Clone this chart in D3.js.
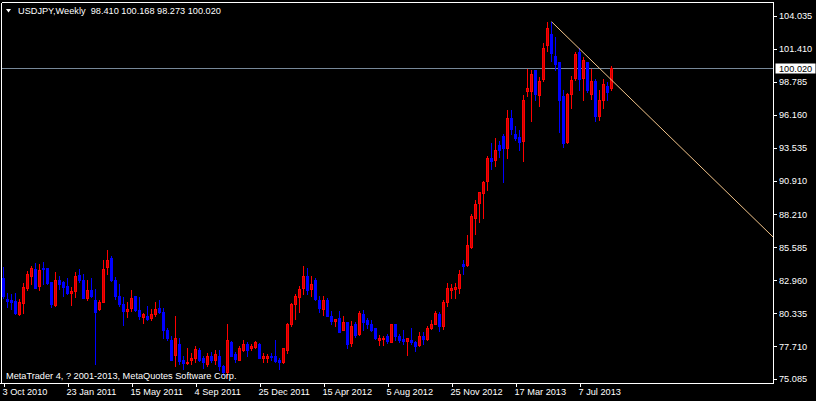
<!DOCTYPE html>
<html>
<head>
<meta charset="utf-8">
<script src="https://cdn.jsdelivr.net/npm/d3@7"></script>
<style>
  html, body { margin: 0; padding: 0; background: #000; }
  svg { display: block; }
  text { font-family: "Liberation Sans", Arial, sans-serif; font-size: 9.2px; fill: #fff; }
</style>
</head>
<body>
<svg id="chart" width="816" height="401"></svg>
<script>
// ---- DATA (weekly USDJPY candles, 3 Oct 2010 .. 1 Sep 2013) ----
const opens = [
 83.24,81.59,81.51,81.45,80.36,81.29,82.44,83.42,84.00,82.65,
 84.03,84.03,82.91,81.11,83.13,82.91,82.65,82.06,82.22,83.50,
 83.13,81.69,82.28,81.48,80.79,81.35,84.14,84.88,83.13,81.85,
 81.21,80.63,80.89,81.80,80.73,80.15,80.26,80.10,80.36,80.84,
 80.57,79.14,78.34,77.12,77.97,76.69,76.48,76.75,76.91,77.49,
 76.91,76.38,77.07,76.75,77.07,76.22,75.80,78.18,77.23,76.75,
 77.49,78.02,77.65,77.76,78.02,76.91,76.91,77.07,77.01,76.75,
 76.59,77.55,79.62,81.21,81.74,82.49,83.39,82.38,83.07,81.53,
 80.79,81.53,80.26,79.83,80.04,79.14,79.72,78.07,79.62,78.82,
 80.42,79.88,79.62,79.30,78.34,78.39,78.61,78.18,79.56,78.66,
 78.39,78.23,78.34,78.18,77.92,78.66,78.39,79.30,79.62,80.42,
 79.46,81.37,82.33,82.38,82.49,84.35,84.30,85.73,88.05,89.24,
 90.04,91.00,92.80,92.70,93.85,94.56,93.65,96.02,94.72,94.50,
 94.18,98.17,98.17,99.82,97.85,99.13,101.84,102.74,100.99,100.46,
 97.80,94.08,97.90,99.24,101.31,99.18,100.46,97.96,98.97,96.20,
 97.48,98.55,98.410];
const highs = [
 84.16,82.04,82.01,82.06,81.56,82.89,83.79,84.22,84.46,84.35,
 84.51,84.08,82.91,83.71,83.45,83.02,83.26,82.52,83.71,83.98,
 83.61,83.07,83.29,82.41,81.53,84.72,85.52,84.99,83.35,82.76,
 81.74,81.32,82.28,81.85,81.74,80.47,81.05,80.79,81.32,81.48,
 80.84,79.30,78.66,80.26,78.45,77.07,77.71,77.28,77.86,77.65,
 77.07,77.28,77.39,77.49,77.49,76.30,79.56,78.23,77.39,77.81,
 78.29,78.13,78.02,78.23,78.07,77.28,77.17,77.28,78.34,76.86,
 77.70,79.67,81.27,82.01,82.65,84.19,84.08,83.39,83.29,81.85,
 81.80,81.69,80.63,80.00,80.63,80.20,79.78,79.83,79.72,80.63,
 80.68,80.10,79.94,79.30,78.72,78.66,78.82,79.56,79.62,78.82,
 79.14,78.45,79.25,78.23,78.93,78.93,79.46,79.94,80.63,80.52,
 81.48,82.86,82.76,82.86,83.92,84.67,86.66,88.39,89.45,90.14,
 91.00,92.96,94.00,94.40,94.20,94.72,96.63,96.68,95.41,95.03,
 97.85,99.93,99.87,99.82,99.29,102.00,103.65,103.70,102.48,100.51,
 98.23,98.00,99.40,101.26,101.57,100.88,100.51,99.93,99.13,98.23,
 99.13,98.92,100.168];
const lows = [
 81.65,80.97,80.81,80.36,80.31,80.47,82.28,82.81,82.49,82.30,
 82.81,82.81,80.95,81.05,82.38,81.85,82.01,81.11,81.75,82.97,
 81.64,81.48,81.74,76.43,80.68,81.35,83.61,83.00,81.59,81.00,
 79.49,80.15,80.63,80.60,79.99,79.67,79.94,79.94,80.26,80.50,
 78.50,78.29,76.70,76.22,76.38,76.00,76.43,76.38,76.54,76.64,
 76.11,76.27,76.54,76.43,75.95,75.56,75.30,77.01,76.54,76.70,
 77.44,77.07,77.49,77.70,76.86,76.54,76.59,76.70,76.59,76.00,
 76.48,77.28,79.40,79.99,80.57,81.96,82.01,81.85,81.53,80.57,
 80.31,80.26,79.62,79.46,78.93,79.09,77.70,77.86,78.55,78.72,
 79.14,79.30,79.03,78.39,77.92,77.92,78.07,78.13,78.34,78.18,
 77.97,77.12,78.02,77.44,77.81,77.97,78.29,79.19,79.56,79.03,
 79.19,81.00,81.64,81.64,82.06,83.55,84.24,85.68,86.80,87.70,
 88.02,90.30,91.95,92.22,92.90,90.90,92.86,94.72,94.24,93.44,
 92.57,97.75,95.78,97.48,96.95,98.97,101.36,100.56,99.82,94.93,
 93.70,94.02,96.84,99.07,98.28,97.48,98.12,97.53,95.78,95.83,
 96.79,97.43,98.273];
const closes = [
 81.80,81.45,81.37,80.44,81.37,82.52,83.58,84.08,82.49,83.92,
 83.95,82.86,81.21,83.13,82.81,82.54,82.06,82.20,83.45,83.07,
 81.69,82.33,81.85,80.55,81.32,84.00,84.72,83.07,81.85,81.21,
 80.63,80.76,81.69,80.68,80.26,80.36,79.99,80.42,80.79,80.55,
 79.09,78.50,76.75,78.45,76.64,76.48,76.59,76.91,77.60,76.75,
 76.59,77.07,76.69,77.23,76.22,75.80,78.29,77.07,76.80,77.70,
 77.97,77.49,77.81,78.13,76.91,77.01,77.04,76.96,76.64,76.59,
 77.65,79.56,81.21,81.80,82.41,83.45,82.33,82.81,81.58,80.89,
 81.53,80.26,79.83,79.99,78.98,79.72,78.02,79.46,78.72,80.47,
 79.78,79.56,79.14,78.50,78.50,78.50,78.23,79.56,78.61,78.34,
 78.23,78.45,78.18,77.86,78.66,78.39,79.30,79.62,80.47,79.46,
 81.32,82.43,82.49,82.54,83.55,84.19,85.92,88.18,89.19,90.09,
 90.89,92.80,92.59,93.50,93.45,93.65,96.02,95.17,94.45,94.13,
 97.48,98.38,99.50,97.90,98.97,101.57,103.17,101.20,100.35,97.48,
 94.03,97.90,99.07,101.15,99.13,100.62,98.23,98.97,96.15,97.48,
 98.70,98.07,100.020];

const xTickLabels = ["3 Oct 2010","23 Jan 2011","15 May 2011","4 Sep 2011","25 Dec 2011",
                     "15 Apr 2012","5 Aug 2012","25 Nov 2012","17 Mar 2013","7 Jul 2013"];
const barsPerTick = 16;
const yTickValues = [104.035,101.410,98.785,96.160,93.535,90.910,88.210,85.585,82.960,80.335,77.710,75.085];
const titleText = "USDJPY,Weekly  98.410 100.168 98.273 100.020";
const copyrightText = "MetaTrader 4, ? 2001-2013, MetaQuotes Software Corp.";
const bidPrice = 100.020;
const trendBars = [137, 144];
const trendPrices = [103.70, 101.53];

// ---- LAYOUT ----
const W = 816, H = 401;
const plotRight = 773.5, plotBottom = 383.5, plotTop = 2.5, plotLeft = 1.5;
const n = closes.length;

const svg = d3.select("#chart");
svg.append("rect").attr("width", W).attr("height", H).attr("fill", "#000");

const x = d3.scaleLinear().domain([0, n - 1]).range([3.5, 3.5 + 4 * (n - 1)]);
const y = d3.scaleLinear().domain([75.085, 104.035]).range([380.5, 17.5]);

const UP = "#ff0000", UPFILL = "#c80000", DOWN = "#0000ff";

const clip = svg.append("clipPath").attr("id", "plot")
  .append("rect").attr("x", plotLeft).attr("y", plotTop)
  .attr("width", plotRight - plotLeft).attr("height", plotBottom - plotTop);

const plot = svg.append("g").attr("clip-path", "url(#plot)");

// bid line
plot.append("line")
  .attr("x1", 0).attr("x2", plotRight)
  .attr("y1", Math.round(y(bidPrice)) + 0.5).attr("y2", Math.round(y(bidPrice)) + 0.5)
  .attr("stroke", "#778899").attr("stroke-width", 1)
  .attr("shape-rendering", "crispEdges");

// candles
const idx = d3.range(n);
const candles = plot.append("g").attr("shape-rendering", "crispEdges");
candles.selectAll("line.wick").data(idx).join("line")
  .attr("class", "wick")
  .attr("x1", i => x(i)).attr("x2", i => x(i))
  .attr("y1", i => Math.round(y(highs[i])))
  .attr("y2", i => Math.round(y(lows[i])) + 1)
  .attr("stroke", i => closes[i] >= opens[i] ? UP : DOWN)
  .attr("stroke-width", 1);

candles.selectAll("rect.body").data(idx).join("rect")
  .attr("class", "body")
  .attr("x", i => x(i) - 1.5)
  .attr("width", 3)
  .attr("y", i => Math.round(y(Math.max(opens[i], closes[i]))))
  .attr("height", i => Math.max(1, Math.round(y(Math.min(opens[i], closes[i]))) - Math.round(y(Math.max(opens[i], closes[i]))) + 1))
  .attr("fill", i => closes[i] >= opens[i] ? UP : DOWN);

// darker core of bullish bodies
candles.selectAll("rect.core").data(idx.filter(i => closes[i] >= opens[i])).join("rect")
  .attr("class", "core")
  .attr("x", i => x(i) - 0.5)
  .attr("width", 1)
  .attr("y", i => Math.round(y(Math.max(opens[i], closes[i]))) + 1)
  .attr("height", i => Math.max(0, Math.round(y(Math.min(opens[i], closes[i]))) - Math.round(y(Math.max(opens[i], closes[i]))) - 1))
  .attr("fill", UPFILL);

// trend line (ray to the right)
const tx1 = x(trendBars[0]), ty1 = y(trendPrices[0]);
const tx2 = x(trendBars[1]), ty2 = y(trendPrices[1]);
const slope = (ty2 - ty1) / (tx2 - tx1);
plot.append("line")
  .attr("x1", tx1).attr("y1", ty1)
  .attr("x2", plotRight).attr("y2", ty1 + slope * (plotRight - tx1))
  .attr("stroke", "#f2c48a").attr("stroke-width", 1);

// frame
svg.append("path")
  .attr("d", `M${plotLeft},${plotTop}H${plotRight}V${plotBottom}H0`)
  .attr("fill", "none").attr("stroke", "#fff").attr("stroke-width", 1)
  .attr("shape-rendering", "crispEdges");
svg.append("line")
  .attr("x1", plotLeft).attr("x2", plotLeft).attr("y1", plotTop).attr("y2", plotBottom)
  .attr("stroke", "#fff").attr("shape-rendering", "crispEdges");

// y axis
const yAxis = d3.axisRight(y).tickValues(yTickValues).tickSize(3).tickSizeOuter(0)
  .tickFormat(d3.format(".3f"));
const gy = svg.append("g").attr("transform", `translate(${plotRight},-1.5)`).call(yAxis);
gy.select(".domain").remove();
gy.selectAll(".tick line").attr("stroke", "#fff").attr("shape-rendering", "crispEdges");
gy.selectAll(".tick text").attr("x", 5.5).attr("fill", "#fff")
  .style("font-family", "Liberation Sans, Arial, sans-serif").style("font-size", "9.2px");

// bid label
const by = Math.round(y(bidPrice)) + 0.5;
svg.append("rect").attr("x", 775.5).attr("y", by - 5).attr("width", 40).attr("height", 10)
  .attr("fill", "#fff");
svg.append("text").attr("x", 779).attr("y", by).attr("dy", "0.34em")
  .style("fill", "#000").text(d3.format(".3f")(bidPrice));

// x axis
const xAxis = d3.axisBottom(x).tickValues(d3.range(0, n, barsPerTick)).tickSize(3).tickSizeOuter(0)
  .tickFormat((d, k) => xTickLabels[k]);
const gx = svg.append("g").attr("transform", `translate(0,${plotBottom})`).call(xAxis);
gx.select(".domain").remove();
gx.selectAll(".tick line").attr("stroke", "#fff").attr("shape-rendering", "crispEdges");
gx.selectAll(".tick text").attr("text-anchor", "start").attr("x", -1.5).attr("y", 5).attr("fill", "#fff")
  .style("font-family", "Liberation Sans, Arial, sans-serif").style("font-size", "9.2px");

// title
svg.append("path").attr("d", "M6,9H11L8.5,12.5Z").attr("fill", "#fff");
svg.append("text").attr("x", 18).attr("y", 11).attr("dy", "0.34em").text(titleText)
  .attr("xml:space", "preserve").style("white-space", "pre");

// copyright
svg.append("text").attr("x", 6).attr("y", 376).attr("dy", "0.34em").text(copyrightText);
</script>
</body>
</html>
